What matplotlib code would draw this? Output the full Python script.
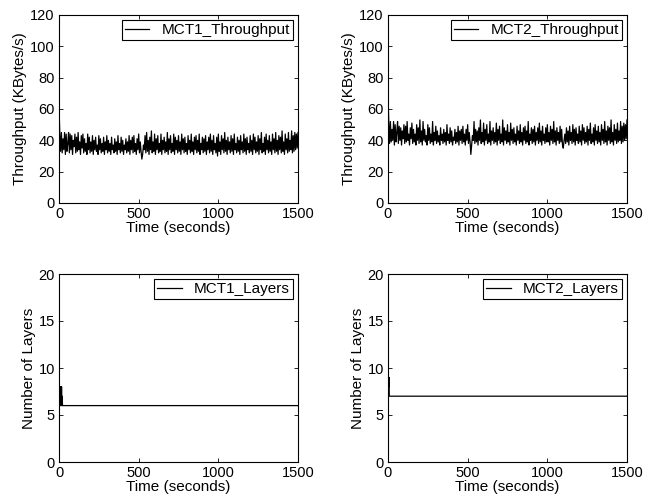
import numpy as np
import matplotlib
matplotlib.use('Agg')
import matplotlib.pyplot as plt

plt.rcParams['font.family'] = ['Liberation Sans', 'DejaVu Sans']
plt.rcParams['font.size'] = 10

# throughput samples, every 5 s after the start-up values
mct1_tp_t = np.r_[0, np.arange(5, 1501, 5)]
mct1_tp = [62,
    44, 33, 45, 32, 41, 34, 45, 31, 44, 33, 38, 45, 32, 44, 34,
    43, 31, 40, 36, 44, 32, 42, 33, 45, 34, 39, 31, 43, 35, 44,
    32, 41, 33, 38, 31, 44, 34, 42, 32, 39, 33, 43, 31, 40, 34,
    42, 33, 37, 31, 43, 34, 41, 32, 38, 33, 42, 31, 39, 34, 43,
    32, 40, 33, 38, 31, 42, 34, 37, 32, 41, 33, 39, 31, 43, 34,
    38, 32, 42, 33, 40, 31, 37, 34, 41, 32, 39, 33, 43, 31, 40,
    34, 42, 32, 43, 33, 38, 31, 41, 34, 44, 32, 39, 33, 28, 31,
    37, 34, 43, 32, 45, 33, 40, 31, 42, 34, 46, 32, 39, 33, 44,
    31, 41, 34, 43, 32, 38, 33, 44, 31, 40, 34, 42, 32, 39, 33,
    45, 31, 41, 34, 43, 32, 38, 33, 44, 31, 42, 34, 40, 32, 43,
    33, 39, 31, 44, 34, 41, 32, 42, 33, 38, 31, 43, 34, 40, 32,
    44, 33, 39, 31, 42, 34, 43, 32, 40, 33, 44, 31, 38, 34, 42,
    32, 41, 33, 43, 31, 39, 34, 42, 32, 44, 33, 40, 31, 43, 34,
    38, 32, 42, 30, 44, 33, 39, 31, 43, 34, 41, 32, 45, 33, 40,
    31, 42, 34, 39, 32, 43, 33, 41, 31, 44, 34, 38, 32, 42, 33,
    40, 31, 43, 34, 39, 32, 44, 33, 41, 31, 42, 34, 38, 32, 43,
    33, 40, 31, 44, 34, 42, 32, 39, 33, 43, 31, 41, 34, 45, 32,
    38, 33, 42, 31, 44, 34, 40, 32, 43, 33, 39, 31, 44, 34, 41,
    32, 45, 33, 40, 31, 43, 34, 42, 32, 46, 33, 39, 31, 44, 34,
    41, 32, 45, 33, 40, 34, 46, 32, 43, 33, 45, 34, 44, 35, 45]

mct2_tp_t = np.r_[0, 2, np.arange(5, 1501, 5)]
mct2_tp = [22, 62,
    51, 38, 52, 39, 47, 40, 52, 37, 50, 39, 45, 52, 38, 49, 40,
    48, 37, 46, 41, 50, 38, 49, 39, 52, 40, 44, 37, 48, 41, 51,
    38, 47, 39, 44, 37, 50, 40, 48, 38, 53, 39, 46, 37, 52, 40,
    47, 39, 43, 37, 50, 40, 48, 38, 44, 39, 52, 37, 45, 40, 49,
    38, 46, 39, 43, 37, 48, 40, 44, 38, 47, 39, 45, 37, 50, 40,
    44, 38, 48, 39, 46, 37, 42, 40, 47, 38, 45, 39, 49, 37, 46,
    40, 47, 38, 49, 39, 44, 37, 47, 40, 50, 38, 45, 39, 31, 37,
    43, 40, 52, 38, 47, 39, 46, 37, 48, 40, 53, 38, 45, 39, 51,
    37, 47, 40, 50, 38, 44, 39, 52, 37, 46, 40, 48, 38, 45, 39,
    51, 37, 47, 40, 49, 38, 44, 39, 53, 37, 48, 40, 46, 38, 50,
    39, 45, 37, 51, 40, 47, 38, 48, 39, 44, 37, 49, 40, 46, 38,
    50, 39, 45, 37, 48, 40, 49, 38, 46, 39, 52, 37, 44, 40, 48,
    38, 47, 39, 49, 37, 45, 40, 48, 38, 51, 39, 46, 37, 49, 40,
    44, 38, 48, 39, 50, 39, 45, 37, 49, 40, 47, 38, 52, 39, 46,
    37, 48, 40, 45, 38, 49, 39, 47, 37, 35, 40, 44, 38, 48, 39,
    46, 37, 49, 40, 45, 38, 50, 39, 47, 37, 48, 40, 44, 38, 49,
    39, 46, 37, 50, 40, 48, 38, 45, 39, 49, 37, 47, 40, 51, 38,
    44, 39, 48, 37, 50, 40, 46, 38, 49, 39, 45, 37, 50, 40, 47,
    38, 52, 39, 46, 37, 49, 40, 48, 38, 53, 39, 45, 37, 50, 40,
    47, 38, 51, 39, 46, 40, 52, 38, 49, 39, 51, 40, 50, 41, 53]

mct1_ly_t = [0, 2, 4, 6, 8, 10, 12, 14, 16, 18, 20, 22, 1500]
mct1_ly = [9, 6, 8, 6, 8, 6, 8, 6, 8, 6, 7, 6, 6]

mct2_ly_t = [0, 3, 5, 6, 8, 1500]
mct2_ly = [0, 9, 8, 9, 7, 7]

fig = plt.figure(figsize=(6.52, 5.0), dpi=100)
w, h = 239 / 652, 188 / 500
lefts = [59 / 652, 388 / 652]
bottoms = [1 - 203 / 500, 1 - 462 / 500]

panels = [
    (0, 0, mct1_tp_t, mct1_tp, 'MCT1_Throughput', 'Throughput (KBytes/s)', 120, 20),
    (0, 1, mct2_tp_t, mct2_tp, 'MCT2_Throughput', 'Throughput (KBytes/s)', 120, 20),
    (1, 0, mct1_ly_t, mct1_ly, 'MCT1_Layers', 'Number of Layers', 20, 5),
    (1, 1, mct2_ly_t, mct2_ly, 'MCT2_Layers', 'Number of Layers', 20, 5),
]

for r, c, t, v, name, ylab, ymax, ystep in panels:
    ax = fig.add_axes([lefts[c], bottoms[r], w, h])
    ax.plot(t, v, color='k', linewidth=0.9, label=name)
    ax.set_xlim(0, 1500)
    ax.set_ylim(0, ymax)
    ax.set_xticks([0, 500, 1000, 1500])
    ax.set_yticks(np.arange(0, ymax + 1, ystep))
    ax.tick_params(direction='in', top=True, right=True, length=3, width=0.6,
                   pad=3, labelsize=10.5)
    for s in ax.spines.values():
        s.set_linewidth(0.8)
    ax.set_xlabel('Time (seconds)', fontsize=11, labelpad=0)
    ax.set_ylabel(ylab, fontsize=11, labelpad=2)
    leg = ax.legend(loc='upper right', fancybox=False, edgecolor='k', framealpha=1,
                    fontsize=11, borderaxespad=0.33, handlelength=1.6,
                    handletextpad=0.8, borderpad=0.2)
    leg.get_frame().set_linewidth(0.8)

fig.savefig('out.png', dpi=100)
